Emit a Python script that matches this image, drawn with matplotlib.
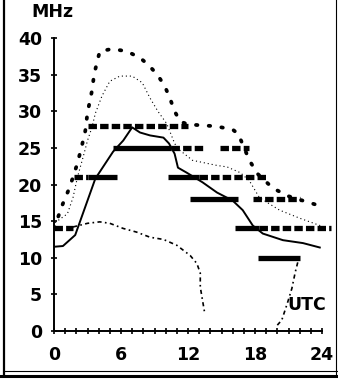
import matplotlib
matplotlib.use("Agg")
import matplotlib.pyplot as plt
from matplotlib.lines import Line2D

# ---------------- data ----------------
# solid (median) curve
solid_x = [0, 0.8, 1.9, 3.7, 5.3, 6.2, 7.0, 7.7, 8.6, 9.8, 10.3, 10.8, 11.1, 11.9, 13.3, 14.6, 16.0, 16.9, 17.8, 18.7, 20.5, 22.3, 23.8]
solid_y = [11.5, 11.6, 13.1, 20.8, 24.5, 26.0, 27.8, 27.1, 26.7, 26.4, 25.6, 24.2, 22.3, 21.6, 20.3, 18.9, 17.8, 16.5, 14.4, 13.3, 12.4, 12.0, 11.4]

# upper bold dotted curve
upper_x = [0, 0.8, 1.4, 2.1, 2.5, 2.8, 3.0, 3.4, 3.6, 4.1, 5.2, 6.5, 7.7, 8.4, 9.2, 9.9, 10.4, 10.8, 11.3, 12.0, 13.0, 14.0, 15.0, 16.0, 16.5, 17.5, 18.2, 19.6, 21.0, 22.7, 24.0]
upper_y = [14.0, 17.4, 19.6, 22.9, 25.3, 27.3, 29.8, 32.8, 35.1, 38.2, 38.5, 38.2, 37.3, 36.4, 35.1, 33.5, 31.7, 30.0, 28.6, 28.2, 28.1, 28.0, 27.8, 27.5, 26.9, 23.3, 21.5, 19.5, 18.4, 17.6, 17.0]

# thin dotted curve
dotted_x = [0.1, 1.2, 1.7, 2.1, 2.6, 3.0, 3.4, 3.7, 4.3, 5.0, 5.9, 7.0, 7.9, 8.6, 9.3, 10.1, 10.7, 11.0, 12.4, 14.6, 15.5, 16.7, 17.5, 18.4, 20.2, 22.0, 24.0]
dotted_y = [14.8, 16.0, 18.2, 21.0, 23.7, 26.0, 27.8, 29.7, 32.1, 34.1, 34.8, 34.8, 33.9, 31.8, 30.0, 28.3, 26.0, 25.0, 23.3, 22.6, 22.4, 21.6, 20.5, 18.2, 16.5, 15.4, 14.3]

# lower dash-dot curve (two pieces)
lower1_x = [1.7, 3.0, 4.1, 5.0, 6.2, 7.4, 8.6, 9.8, 11.0, 12.2, 12.8, 13.1, 13.1, 13.3, 13.5]
lower1_y = [14.2, 14.7, 14.9, 14.7, 14.0, 13.5, 12.8, 12.5, 11.7, 10.3, 9.2, 7.9, 6.0, 4.2, 2.4]
lower2_x = [20.0, 20.4, 20.9, 21.3, 21.6, 21.9]
lower2_y = [0.8, 1.5, 3.8, 5.8, 8.0, 9.8]

# band bars: frequency, start hour, end hour
solid_bar_f = [21, 25, 21, 18, 14, 10]
solid_bar_start = [3.0, 5.3, 10.2, 12.2, 16.2, 18.3]
solid_bar_end = [5.6, 10.5, 13.0, 16.5, 18.4, 22.0]

dashed_bar_f = [14, 21, 28, 25, 25, 21, 18, 14]
dashed_bar_start = [0.0, 1.8, 3.0, 10.5, 14.9, 13.0, 17.8, 18.4]
dashed_bar_end = [1.7, 3.0, 12.0, 13.5, 17.5, 19.1, 22.0, 24.8]

y_ticks = [0, 5, 10, 15, 20, 25, 30, 35, 40]
x_ticks = [0, 6, 12, 18, 24]

# ---------------- plot ----------------
W, H = 338, 379
fig = plt.figure(figsize=(W / 100, H / 100), dpi=100)
ax = fig.add_axes([54 / W, 48 / H, 268 / W, 293 / H])
ax.set_xlim(0, 24)
ax.set_ylim(0, 40)

font = dict(family="DejaVu Sans", weight="bold", size=12.5)

# curves
ax.plot(solid_x, solid_y, color="black", lw=1.4, solid_joinstyle="round")
ax.plot(upper_x, upper_y, color="black", lw=2.7, linestyle=(0, (0.4, 3.0)),
        dash_capstyle="round")
ax.plot(dotted_x, dotted_y, color="black", lw=0.8, linestyle=(0, (1, 2.6)))
for lx, ly in ((lower1_x, lower1_y), (lower2_x, lower2_y)):
    ax.plot(lx, ly, color="black", lw=1.2, linestyle=(0, (2.5, 2, 1, 2)), clip_on=False)

# bars
for f, s, e in zip(solid_bar_f, solid_bar_start, solid_bar_end):
    ax.plot([s, e], [f, f], color="black", lw=3.8, solid_capstyle="butt", clip_on=False)
for f, s, e in zip(dashed_bar_f, dashed_bar_start, dashed_bar_end):
    ax.plot([s, e], [f, f], color="black", lw=3.8, linestyle=(0, (1.6, 0.6)),
            dash_capstyle="butt", clip_on=False)

# axes styling
for side in ("top", "right"):
    ax.spines[side].set_visible(False)
for side in ("left", "bottom"):
    ax.spines[side].set_linewidth(1.4)
ax.set_yticks(y_ticks)
ax.set_yticklabels([str(v) for v in y_ticks], fontdict=font)
ax.set_xticks(x_ticks)
ax.set_xticklabels([str(v) for v in x_ticks], fontdict=font)
ax.set_xticks(range(0, 25), minor=True)
ax.tick_params(axis="both", which="both", direction="inout", length=5, width=1.2)
ax.tick_params(axis="y", pad=6)
ax.tick_params(axis="x", pad=8)

ax.text(-0.1, 42.3, "MHz", ha="center", va="bottom", fontdict=font)
ax.text(22.6, 3.5, "UTC", ha="center", va="center", fontdict=font)

# figure frame
fig.add_artist(Line2D([4 / W, 4 / W], [1 - 0 / H, 1 - 376 / H], color="black", lw=1.6,
                      transform=fig.transFigure))
fig.add_artist(Line2D([336 / W, 336 / W], [1 - 0 / H, 1 - 376 / H], color="black", lw=0.8,
                      transform=fig.transFigure))
fig.add_artist(Line2D([4 / W, 1], [1 - 371 / H, 1 - 371 / H], color="black", lw=0.8,
                      transform=fig.transFigure))
fig.add_artist(Line2D([0, 1], [1 - 376 / H, 1 - 376 / H], color="black", lw=2.2,
                      transform=fig.transFigure))

fig.savefig("out.png", dpi=100)
